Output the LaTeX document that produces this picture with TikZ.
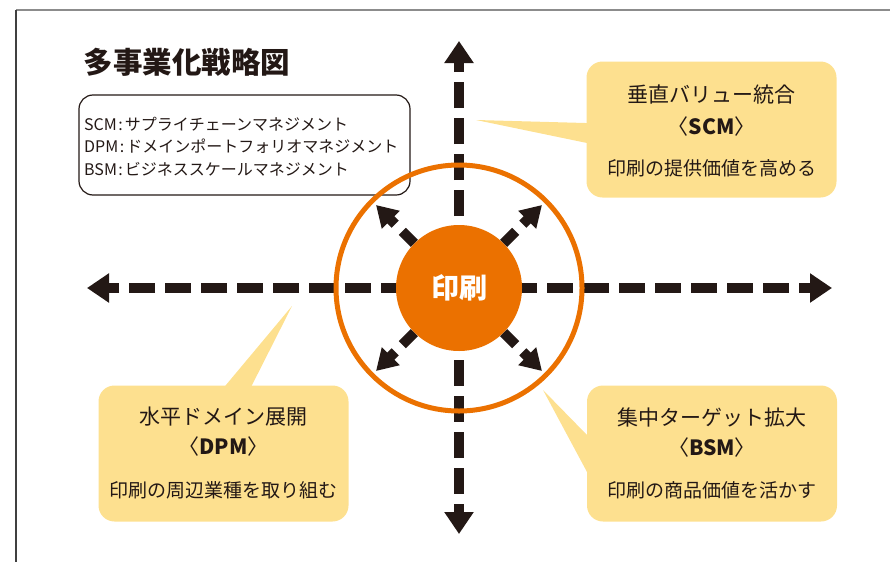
\documentclass[tikz,border=0pt]{standalone}
\usepackage{fontspec}
\setmainfont{Noto Sans CJK JP}
\usetikzlibrary{arrows.meta}
\definecolor{ink}{HTML}{231815}
\definecolor{orng}{HTML}{EB7100}
\definecolor{pale}{HTML}{FDE08F}
\newcommand{\abbrev}[1]{{\mdseries〈}#1{\mdseries〉}}

\begin{document}
\begin{tikzpicture}[x=1pt,y=-1pt,
  axis/.style={ink,line width=10pt,dash pattern=on 26pt off 10pt,-{Triangle[length=22pt,width=28pt]}},
  spoke/.style={ink,line width=10pt,dash pattern=on 17pt off 10pt on 40pt off 0pt,-{Triangle[length=21pt,width=24pt]}},
  callout/.style={fill=pale,rounded corners=16pt,minimum width=250pt,minimum height=136pt},
  head/.style={ink,font=\fontsize{21}{21}\selectfont},
  abbr/.style={ink,font=\fontsize{21}{21}\selectfont\bfseries},
  sub/.style={ink,font=\fontsize{19}{19}\selectfont}]

\useasboundingbox (0,0) rectangle (890,562);
\draw [line width=2pt,black!45] (16,9.5) -- (890,9.5);
\draw [line width=1.3pt,black!75] (16,9.5) -- (16,562);

\node [anchor=west,ink,font=\fontsize{29.5}{29.5}\selectfont\bfseries] (title) at (80,62) {多事業化戦略図};

\node [draw=ink,line width=1.2pt,rounded corners=14pt,minimum width=331pt,minimum height=100pt] (legend) at (244.5,145) {};
\node [anchor=west,align=left,inner sep=0pt,ink,font=\fontsize{16}{22.5}\selectfont] (terms) at (84,146.5)
  {SCM\kern1.5pt:\kern2pt サプライチェーンマネジメント\\DPM\kern1.5pt:\kern2pt ドメインポートフォリオマネジメント\\BSM\kern1.5pt:\kern2pt ビジネススケールマネジメント};

% axes
\coordinate (c) at (459,288);
\coordinate (n) at (459,41);
\coordinate (s) at (459,534);
\coordinate (w) at (87,288);
\coordinate (e) at (832,288);
\draw [axis] (c) -- (n);
\draw [axis] (c) -- (s);
\draw [axis,dash phase=20pt] (c) -- (w);
\draw [axis,dash phase=20pt] (c) -- (e);

% callouts
\fill [pale] (476,120) -- (600,123.4) -- (600,145.7) -- cycle;
\fill [pale] (292,306) -- (217.6,395) -- (247,395) -- cycle;
\fill [pale] (543,390) -- (600,448.3) -- (600,496.2) -- cycle;

\node [callout] (scm) at (711.5,129.5) {};
\node [head] (scm-a) at (711.5,95) {垂直バリュー統合};
\node [abbr] (scm-b) at (711.5,127) {\abbrev{SCM}};
\node [sub] (scm-c) at (711.5,168) {印刷の提供価値を高める};

\node [callout] (dpm) at (223.5,453.5) {};
\node [head] (dpm-a) at (223.5,417) {水平ドメイン展開};
\node [abbr] (dpm-b) at (223.5,447) {\abbrev{DPM}};
\node [sub] (dpm-c) at (223.5,490) {印刷の周辺業種を取り組む};

\node [callout] (bsm) at (712,453.5) {};
\node [head] (bsm-a) at (712,417) {集中ターゲット拡大};
\node [abbr] (bsm-b) at (712,448) {\abbrev{BSM}};
\node [sub] (bsm-c) at (712,490) {印刷の商品価値を活かす};

% centre
\draw [orng,line width=5pt] (c) circle [radius=123];
\node [circle,fill=orng,minimum size=126pt,inner sep=0pt,text=white,font=\fontsize{28}{28}\selectfont\bfseries] (core) at (c) {印刷};

\coordinate (ne) at (542,205);
\coordinate (nw) at (376,205);
\coordinate (sw) at (376,371);
\coordinate (se) at (542,371);
\foreach \t in {ne,nw,sw,se}
  \draw [spoke] (core) -- (\t);
\end{tikzpicture}
\end{document}
